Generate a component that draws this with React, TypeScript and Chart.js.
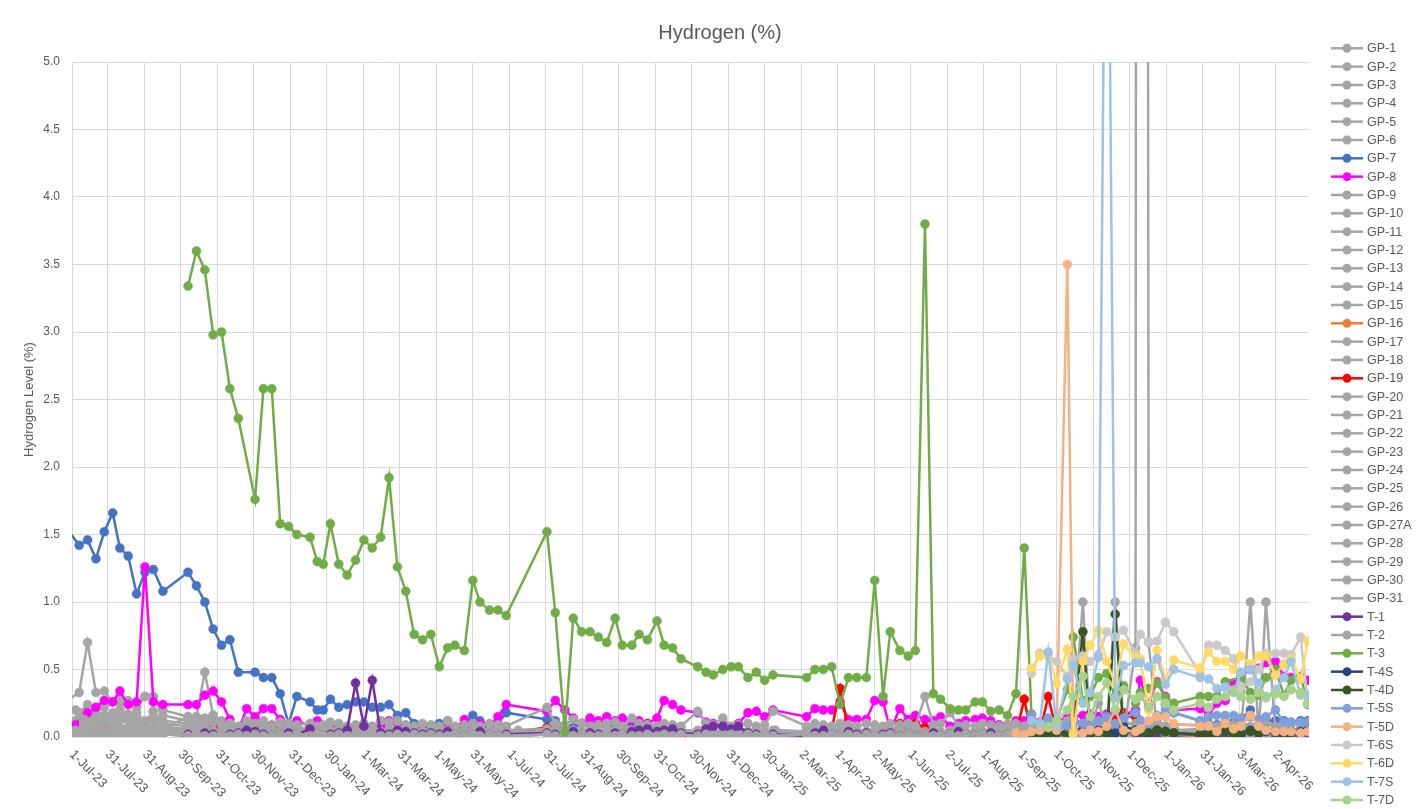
import React, { useEffect, useRef } from 'react';
import { Chart, registerables } from 'chart.js';
Chart.register(...registerables);

const TITLE = 'Hydrogen (%)';
const Y_TITLE = 'Hydrogen Level (%)';

// Sampling dates, as days after 1-Jul-2023
const GRID_DAYS = [
  -4, 3, 6, 13, 20, 27, 34, 40, 47, 54, 61, 68, 76, 97, 104, 111, 118, 125, 132, 139,
  146, 153, 160, 167, 174, 181, 188, 195, 199, 205, 210, 216, 223, 230, 237, 244, 251, 258, 265, 272,
  279, 286, 293, 300, 307, 314, 320, 328, 335, 341, 349, 356, 363, 397, 404, 412, 419, 426, 433, 440,
  447, 454, 460, 468, 474, 481, 489, 495, 502, 509, 516, 523, 530, 536, 544, 551, 557, 565, 572, 579,
  586, 614, 621, 628, 635, 642, 649, 656, 664, 671, 678, 684, 692, 699, 705, 713, 720, 726, 734, 741,
  747, 755, 761, 768, 775, 782, 789, 796, 802, 809, 816, 823, 832, 837, 845, 851, 858, 865, 872, 879,
  889, 893, 900, 907, 914, 921, 929, 936, 943, 950, 957, 964, 971, 977, 985, 992, 998, 1006, 1013, 1019,
  1027, 1033,
];
const MONTH_DAYS = [10, 38, 69, 99, 130, 160, 191, 222, 251, 282, 312, 343, 373, 404, 435, 465, 496, 526, 557, 588, 616, 647, 677, 708, 738, 769, 800, 830, 861, 891, 922, 953, 981, 1012];

const X_TICK_LABELS = ['1-Jul-23', '31-Jul-23', '31-Aug-23', '30-Sep-23', '31-Oct-23', '30-Nov-23', '31-Dec-23', '30-Jan-24', '1-Mar-24', '31-Mar-24', '1-May-24', '31-May-24', '1-Jul-24', '31-Jul-24', '31-Aug-24', '30-Sep-24', '31-Oct-24', '30-Nov-24', '31-Dec-24', '30-Jan-25', '2-Mar-25', '1-Apr-25', '2-May-25', '1-Jun-25', '2-Jul-25', '1-Aug-25', '1-Sep-25', '1-Oct-25', '1-Nov-25', '1-Dec-25', '1-Jan-26', '31-Jan-26', '3-Mar-26', '2-Apr-26'];
const X_MAX_DAY = 1034;

const GRAY = '#A5A5A5';

// ---- series values ----
const GP1 = [0.27, null, 0.33, 0.70, 0.33, 0.34, 0.26, 0.28, 0.27, 0.22, 0.30, 0.30, 0.20, 0.15, 0.15, 0.48, 0.16, 0.12, 0.10, 0.06, 0.08, 0.10, 0.12, 0.09, 0.06, 0.05, 0.08, null,
  0.05, 0.06, 0.04, 0.07, 0.05, 0.06, 0.04, 0.05, 0.06, 0.12, 0.10, 0.12, 0.06, 0.05, 0.04, 0.06, 0.05, 0.12, 0.06, 0.05, 0.04, 0.06, 0.05, 0.04, 0.06];
const GP2 = [0.19, 0.20, 0.18, 0.24, 0.20, 0.22, 0.26, 0.25, 0.26, 0.22, 0.30, 0.30, 0.16, 0.12, 0.10, 0.14, 0.16, 0.08, 0.06, 0.05, 0.07, 0.06, 0.05, 0.08, 0.06, 0.05, 0.04, null, 0.04, 0.05, 0.03, 0.04, 0.06, 0.04, 0.03, 0.05, 0.04, 0.03, 0.05, 0.04, 0.03, 0.04];
const GP3 = [0.12, 0.10, 0.14, 0.12, 0.18, 0.16, 0.18, 0.20, 0.14, 0.18, 0.11, 0.19, 0.10, 0.08, 0.06, 0.08, 0.05, 0.04, 0.06, 0.05, 0.04, 0.06, 0.05, 0.04, 0.03, 0.05, 0.04];
const GP4 = [0.08, 0.06, 0.09, 0.10, 0.08, 0.12, 0.10, 0.14, 0.12, 0.10, 0.08, 0.12, 0.06, 0.15, 0.15, 0.10, 0.16, 0.08, 0.06, 0.05, 0.06, 0.04, 0.05, 0.06, 0.04, 0.05, 0.03];
const GP5 = [0.03, 0.04, 0.06, 0.05, 0.07, 0.06, 0.08, 0.07, 0.06, 0.08, 0.11, 0.19, 0.08, 0.06, 0.05, 0.07, 0.06, 0.05, 0.04, 0.03, 0.04, 0.03, 0.04, 0.03, 0.02, 0.03, 0.04];
const GP6 = [0.15, 0.12, 0.10, 0.16, 0.13, 0.14, 0.15, 0.18, 0.17, 0.14, 0.12, 0.14, 0.12, 0.10, 0.08, 0.10, 0.12, 0.07, 0.05, 0.06, 0.04, 0.05, 0.04, 0.03, 0.04, 0.05, 0.03];
const GP7 = [
  1.54, null, 1.42, 1.46, 1.32, 1.52, 1.66, 1.40, 1.34, 1.06,
  1.22, 1.24, 1.08, 1.22, 1.12, 1.00, 0.80, 0.68, 0.72, 0.48,
  null, 0.48, 0.44, 0.44, 0.32, 0.10, 0.30, null, 0.26, 0.20,
  0.20, 0.28, 0.22, 0.24, 0.26, 0.26, 0.22, 0.22, 0.24, 0.16,
  0.18, 0.10, 0.08, 0.08, 0.10, 0.08, 0.07, 0.08, 0.16, 0.12,
  0.08, 0.10, 0.18, 0.13, 0.12, 0.08, 0.07, 0.10, 0.09, 0.10,
  0.08, 0.09, 0.10, 0.08, 0.09, 0.10, 0.06, 0.05, 0.04, 0.05,
  null, 0.04, 0.03, 0.04, 0.03, 0.02, 0.03, 0.04, 0.03, 0.02,
  0.03, 0.03, 0.02, 0.03, 0.04, 0.03, 0.02, 0.03, 0.03, 0.02,
  0.03, 0.04, 0.03, 0.02, 0.03, 0.03, 0.02, 0.03, 0.04, 0.03,
  0.02, 0.03, 0.03, 0.02, 0.03, 0.04, 0.03, 0.05, 0.06, 0.08,
  0.10, 0.06, 0.09, 0.12, 0.08, 0.10, 0.15, 0.12, 0.10, 0.14,
  0.16, 0.12, 0.10, 0.08, 0.24, 0.18, null, null, 0.12, 0.10,
  0.09, 0.10, 0.11, 0.13, 0.20, 0.10, 0.12, 0.12, 0.12, 0.11,
  0.12, 0.12,
];
const GP8 = [
  0.05, 0.09, null, 0.18, 0.22, 0.27, 0.26, 0.34, 0.24, 0.26,
  1.26, 0.26, 0.24, 0.24, 0.24, 0.31, 0.34, 0.26, 0.13, 0.05,
  0.21, 0.15, 0.21, 0.21, 0.13, 0.09, 0.12, null, 0.08, 0.12,
  0.05, 0.08, 0.06, 0.07, 0.06, 0.07, 0.06, 0.08, 0.12, 0.10,
  0.08, 0.06, 0.05, 0.05, 0.06, 0.07, 0.06, 0.13, 0.06, 0.10,
  0.08, 0.15, 0.24, 0.19, 0.27, 0.20, 0.14, 0.10, 0.14, 0.12,
  0.15, 0.12, 0.14, 0.12, 0.12, 0.10, 0.14, 0.27, 0.24, 0.20,
  null, 0.18, 0.11, 0.10, 0.08, 0.06, 0.10, 0.18, 0.19, 0.15,
  0.20, 0.15, 0.21, 0.20, 0.20, 0.26, 0.13, 0.13, 0.13, 0.27,
  0.26, 0.05, 0.21, 0.13, 0.16, 0.13, 0.12, 0.15, 0.08, 0.10,
  0.12, 0.13, 0.14, 0.12, 0.09, 0.09, 0.12, 0.12, 0.13, 0.11,
  0.12, 0.12, 0.14, 0.15, 0.16, 0.17, 0.15, 0.17, 0.18, 0.16,
  0.20, 0.42, 0.25, 0.41, 0.30, 0.20, null, null, 0.21, 0.16,
  0.25, 0.27, 0.40, 0.45, 0.50, 0.51, 0.55, 0.56, 0.45, 0.44,
  0.43, 0.42,
];
const GP9 = [0.06, 0.05, 0.04, 0.03, 0.05, 0.04, 0.03, 0.02, 0.04, 0.03, 0.02, 0.03, 0.04, 0.02, 0.03, 0.02, 0.03, 0.04, 0.02, 0.03, 0.02, 0.03, 0.04, 0.02, 0.03, 0.02, 0.03, 0.02, 0.04, 0.03, 0.02, 0.03, 0.02, 0.03];
const GP10 = [0.10, 0.08, 0.06, 0.05, 0.04, 0.05, 0.03, 0.04, 0.05, 0.03, 0.04, 0.03, 0.02, 0.03, 0.04, 0.03, 0.02, 0.03, 0.04, 0.03, 0.02, 0.03, 0.02, 0.04, 0.03, 0.02, 0.03, 0.04, 0.02, 0.03, 0.04, 0.03, 0.02, 0.03];
const GP11 = [0.08, 0.12, 0.07, 0.04, 0.03, 0.02, 0.03, 0.04, 0.02, 0.03, 0.02, 0.01, 0.02, 0.03, 0.02, 0.01, 0.02, 0.03, 0.02, 0.01, 0.02, 0.03, 0.02, 0.01, 0.02, 0.03];
const GP12 = [0.05, 0.07, 0.05, 0.04, 0.06, 0.05, 0.04, 0.03, 0.05, 0.04, 0.03, 0.04, 0.05, 0.03, 0.04, 0.05, 0.03, 0.04, 0.03, 0.05, 0.04, 0.03, 0.04, 0.05, 0.03, 0.04, 0.03, 0.05, 0.04, 0.03, 0.04, 0.05, 0.03, 0.04];
const GP13 = [0.12, 0.09, 0.06, 0.04, 0.03, 0.04, 0.02, 0.03, 0.02, 0.03, 0.04, 0.02, 0.03, 0.02, 0.01, 0.02, 0.03, 0.02];
const GP14 = [0.04, 0.06, 0.03, 0.02, 0.03, 0.02, 0.01, 0.02, 0.03, 0.02, 0.01, 0.02, 0.01, 0.02, 0.03, 0.02, 0.01, 0.02, 0.03, 0.01, 0.02, 0.03, 0.01, 0.02, 0.01, 0.02, 0.03, 0.02, 0.01, 0.02, 0.03, 0.02, 0.01, 0.02];
const GP15 = [0.09, 0.05, 0.04, 0.05, 0.03, 0.04, 0.03, 0.02, 0.03, 0.04, 0.02, 0.03, 0.02, 0.03, 0.04, 0.02, 0.03, 0.02, 0.03, 0.02, 0.04, 0.03, 0.02, 0.03, 0.02, 0.04, 0.03, 0.02, 0.03, 0.02, 0.04, 0.03, 0.02, 0.03];
const GP16 = [
  0.02, 0.01, 0.02, 0.01, 0.01, 0.02, 0.01, 0.02, 0.01, 0.02,
  0.01, 0.02, 0.03, 0.02, 0.01, 0.02, 0.01, 0.02, 0.01, 0.02,
  0.01, 0.02, 0.01, 0.02, 0.01, 0.02, 0.01, 0.02, 0.01, 0.02,
  null, 0.01, 0.02, 0.01, 0.02, 0.01, 0.02, 0.01, 0.02, 0.01,
  0.02, 0.03, 0.02, 0.01, 0.02, 0.01, 0.02, 0.01, 0.02, 0.01,
  0.02, 0.01, 0.02, 0.01, 0.02, 0.01, 0.02, 0.01, 0.02, 0.01,
  0.02, 0.01, 0.02, 0.01, 0.02, 0.01, 0.02, 0.01, 0.02, 0.01,
  0.02, 0.01, 0.02, 0.01, 0.02, 0.01, 0.02, 0.01, 0.02, 0.03,
  0.02, 0.01, 0.02, 0.01, 0.02, 0.01, null, null, 0.02, 0.01,
  0.02, 0.01, 0.02, 0.01, 0.02, 0.01, 0.02, 0.01, 0.02, 0.01,
  0.02, 0.01,
];
const GP17 = [0.07, 0.06, 0.05, 0.06, 0.04, 0.05, 0.04, 0.03, 0.04, 0.05, 0.03, 0.04, 0.03, 0.04, 0.05, 0.03, 0.04, 0.03, 0.05, 0.04, 0.03, 0.04, 0.03, 0.05, 0.04, 0.03, 0.04, 0.05, 0.03, 0.04, 0.05, 0.04, 0.03, 0.04];
const GP18 = [0.03, 0.02, 0.03, 0.02, 0.01, 0.02, 0.03, 0.02, 0.01, 0.02, 0.01, 0.02, 0.03, 0.01, 0.02, 0.01, 0.02, 0.03, 0.02, 0.01, 0.02, 0.01, 0.02, 0.03, 0.02, 0.01, 0.02, 0.01, 0.03, 0.02, 0.01, 0.02, 0.03, 0.02];
const GP19 = [
  0.01, 0.02, 0.01, 0.02, 0.01, 0.04, 0.02, 0.01, 0.02, 0.01,
  0.02, 0.01, 0.02, 0.01, 0.02, 0.03, 0.09, 0.05, 0.02, 0.01,
  0.02, 0.03, 0.08, 0.08, 0.03, 0.02, 0.01, null, 0.02, 0.01,
  0.02, 0.01, 0.02, 0.03, 0.01, 0.02, 0.01, 0.02, 0.03, 0.01,
  0.02, 0.01, 0.02, 0.01, 0.03, 0.02, 0.01, 0.02, 0.01, 0.02,
  0.03, 0.02, 0.03, 0.07, 0.06, 0.03, 0.02, 0.01, 0.02, 0.01,
  0.02, 0.01, 0.02, 0.01, 0.02, 0.01, 0.02, 0.01, 0.02, 0.01,
  null, 0.02, 0.01, 0.02, 0.01, 0.02, 0.01, 0.03, 0.02, 0.01,
  0.02, 0.01, 0.02, 0.03, 0.05, 0.36, 0.05, 0.02, 0.01, 0.02,
  0.03, 0.02, 0.10, 0.03, 0.10, 0.07, 0.02, 0.01, 0.02, 0.01,
  0.02, 0.01, 0.02, 0.01, 0.02, 0.03, 0.02, 0.28, 0.02, 0.03,
  0.30, 0.04, 0.06, 0.03, 0.08, 0.12, 0.10, 0.06, 0.12, 0.18,
  0.15, 0.10, 0.05, 0.02, 0.03, 0.02, null, null, 0.01, 0.02,
  0.01, 0.02, 0.03, 0.01, 0.02, 0.01, 0.02, 0.01, 0.02, 0.01,
  0.02, 0.01,
];
const GP20 = [
  0.04, 0.05, 0.04, 0.06, 0.05, 0.04, 0.05, 0.06, 0.04, 0.05,
  0.06, 0.05, 0.04, 0.05, 0.04, 0.06, 0.05, 0.04, 0.05, 0.04,
  0.05, 0.04, 0.06, 0.05, 0.04, 0.05, 0.04, null, 0.05, 0.04,
  0.04, 0.05, 0.06, 0.04, 0.05, 0.04, 0.05, 0.04, 0.05, 0.06,
  0.04, 0.05, 0.04, 0.05, 0.04, 0.05, 0.06, 0.04, 0.05, 0.04,
  0.05, 0.04, 0.05, 0.06, 0.05, 0.04, 0.05, 0.04, 0.05, 0.04,
  0.06, 0.05, 0.04, 0.05, 0.04, 0.05, 0.04, 0.06, 0.05, 0.04,
  null, 0.05, 0.04, 0.05, 0.04, 0.06, 0.05, 0.04, 0.05, 0.04,
  0.05, 0.04, 0.05, 0.04, 0.06, 0.05, 0.04, 0.05, 0.04, 0.05,
  0.04, 0.05, 0.06, 0.04, 0.05, 0.04, 0.05, 0.04, 0.05, 0.06,
  0.04, 0.05, 0.04, 0.05, 0.04, 0.05, 0.06, 0.04, 0.05, 0.04,
  0.05, 0.06, 0.04, 0.05, 0.07, 0.05, 0.06, 0.04, 0.05, 0.06,
  0.05, 0.04, 0.06, 0.05, 0.04, 0.05, null, null, 0.04, 0.05,
  0.06, 0.04, 0.05, 0.04, 0.05, 0.06, 0.04, 0.05, 0.04, 0.05,
  0.06, 0.05,
];
const GP21 = [
  0.10, 0.12, 0.08, 0.11, 0.09, 0.10, 0.08, 0.12, 0.10, 0.09, 0.08, 0.11, 0.10, 0.09, null,
  0.10, 0.08, 0.09, 0.11, 0.10, 0.08, 0.09, 0.10, 0.08, 0.12, 0.11, 0.12, 0.09, 0.08, 0.10, 0.09, 0.08, 0.12, 0.08, 0.09, 0.10, 0.08, 0.10, 0.09, 0.08,
  0.22, 0.10, 0.09, 0.13, 0.10, 0.08, 0.09, 0.10, 0.11, 0.08, 0.14, 0.10, 0.09, 0.08, 0.10, 0.09, 0.08, null,
  0.19, 0.10, 0.09, 0.14, 0.08, 0.09, 0.10, 0.08, 0.09, 0.19,
  0.08, 0.10, 0.09, 0.08, 0.10, 0.09, 0.08, 0.10, 0.09, 0.08, 0.10, 0.09, 0.10, 0.08, 0.30, 0.09, 0.10, 0.18, 0.08, 0.09,
  0.08, 0.10, 0.09, 0.08, 0.09, 0.10, 0.08, 0.09,
  0.10, 0.08, 0.12, 0.09, 0.14, 0.10, 0.12, 0.08, 0.10, 0.09, 0.12, 0.08, 0.10, 0.09, 0.11, 0.08, 0.09, null, null,
  0.09, 0.10, 0.08, 0.12, 0.09, 0.10, 0.08, 0.09, 0.10, 0.08, 0.09, 0.10, 0.08, 0.09,
];
const GP22 = [0.11, 0.08, 0.05, 0.04, 0.05, 0.03, 0.04, 0.03, 0.02, 0.03, 0.04, 0.03, 0.02, 0.03, 0.02, 0.04, 0.03, 0.02, 0.03, 0.02, 0.03, 0.04, 0.02, 0.03];
const GP23 = [0.06, 0.04, 0.05, 0.03, 0.04, 0.02, 0.03, 0.04, 0.02, 0.03, 0.02, 0.03, 0.04, 0.02, 0.03, 0.02, 0.04, 0.03, 0.02, 0.03, 0.02, 0.04, 0.03, 0.02, 0.03, 0.02, 0.03, 0.04, 0.02, 0.03, 0.02, 0.04, 0.03, 0.02];
const GP24 = [0.05, 0.03, 0.02, 0.03, 0.02, 0.01, 0.02, 0.01, 0.02, 0.03, 0.01, 0.02, 0.01, 0.02, 0.01, 0.02, 0.03, 0.01, 0.02, 0.01, 0.02, 0.01, 0.03, 0.02, 0.01, 0.02, 0.01, 0.02, 0.03, 0.01, 0.02, 0.01, 0.02, 0.01];
const GP25 = [0.04, 0.05, 0.03, 0.04, 0.03, 0.02, 0.03, 0.04, 0.03, 0.02, 0.03, 0.02, 0.03, 0.04, 0.02, 0.03, 0.02, 0.03, 0.02, 0.04, 0.03, 0.02, 0.03, 0.02, 0.03, 0.04, 0.02, 0.03, 0.02, 0.03, 0.04, 0.02, 0.03, 0.02];
const GP26 = [0.13, 0.07, 0.05, 0.04, 0.03, 0.04, 0.03, 0.02, 0.03, 0.02, 0.03, 0.02, 0.01, 0.02, 0.03, 0.02, 0.01, 0.02, 0.01, 0.02];
const GP27A = [0.05, 0.08, 0.10, 0.06, 0.12, 0.05, 1.00, 0.06, 0.25, 0.08, 1.00, 0.10, 0.10, 0.08, 0.06, 0.10, 0.08, 0.05, null, null, 0.06, 0.05, 0.04, 0.06, 0.05, 0.10, 0.05, 0.06, 0.04, 0.05, 0.06, 0.05, 0.04, 0.05];
const GP28 = [0.03, 0.02, 0.04, 0.03, 0.02, 0.00, 1.00, 0.03, 1.00, 0.03, 0.02, 0.04, 0.03, 0.02];
const GP29 = [null, null, null, 0.04, 0.03, 0.05, 0.04, 0.03, 0.04, 0.05, 0.03, 0.04, 0.03, 0.05, 0.04, 0.03, 0.04, 0.03, 0.05, 0.04, 0.03, 0.04, 0.05, 0.03, 0.04, 0.03, 0.05, 0.04, 0.03, 0.04, 0.05, 0.03, 0.04, 0.03];
const GP30 = [null, null, null, 0.02, 0.03, 0.02, 0.01, 0.02, 0.03, 0.02, 0.01, 0.02, 0.03, 0.02, 0.01, 0.02, 0.03, 0.01, 0.02, 0.03, 0.02, 0.01, 0.02, 0.03, 0.02, 0.01, 0.02, 0.03, 0.02, 0.01, 0.02, 0.03, 0.02, 0.01];
const GP31 = [null, null, null, 0.05, 0.04, 0.03, 0.04, 0.05, 0.03, 0.04, 0.03, 0.02, 0.03, 0.04, 0.03, 0.02, 0.03, 0.04, 0.02, 0.03, 0.04, 0.02, 0.03, 0.04, 0.03, 0.02, 0.03, 0.04, 0.03, 0.02, 0.03, 0.04, 0.03, 0.02];
const T1 = [
  0.02, 0.01, 0.03, 0.02, 0.01, 0.02, 0.03, 0.05, 0.04, 0.02,
  0.01, 0.02, 0.03, 0.02, null, 0.06, 0.02, 0.01, 0.02, 0.03,
  0.05, 0.40, 0.08, 0.42, 0.03, 0.02, 0.05, 0.04, 0.03, 0.02,
  0.03, 0.02, 0.04, 0.02, 0.01, 0.02, 0.04, 0.02, 0.01, 0.02,
  0.03, 0.02, 0.01, 0.04, 0.02, 0.03, 0.02, 0.01, 0.03, 0.02,
  0.04, 0.05, 0.06, 0.04, 0.05, 0.06, 0.03, null, 0.02, 0.06,
  0.08, 0.08, 0.06, 0.08, 0.03, 0.02, 0.01, 0.02, 0.01, 0.03,
  0.05, 0.02, 0.01, 0.04, 0.02, 0.03, 0.01, 0.02, 0.03, 0.01,
  0.02, 0.01, 0.02, 0.03, 0.01, 0.02, 0.04, 0.02, 0.01, 0.02,
  0.03, 0.01, 0.02, 0.01, 0.02, 0.01, 0.02, 0.03, 0.01, 0.02,
  0.01, 0.03, 0.02, 0.05, 0.03, 0.02, 0.04, 0.03, 0.02, 0.01,
  0.02, 0.03, 0.01, null, null, 0.02, 0.01, 0.02, 0.03, 0.01,
  0.02, 0.01, 0.02, 0.03, 0.02, 0.01, 0.02, 0.01, 0.02,
];
const T2 = [
  0.02, 0.01, 0.02, 0.01, 0.02, 0.01, 0.02, 0.01, 0.02, 0.01,
  0.02, 0.01, 0.02, 0.01, 0.02, 0.01, 0.01, 0.02, 0.01, 0.02,
  0.01, 0.02, 0.01, 0.01, 0.02, 0.01, 0.02, null, 0.01, 0.02,
  0.01, 0.01, 0.02, 0.01, 0.02, 0.01, 0.02, 0.01, 0.01, 0.02,
  0.01, 0.02, 0.01, 0.02, 0.01, 0.01, 0.02, 0.01, 0.02, 0.01,
  0.02, 0.01, 0.01, 0.02, 0.01, 0.02, 0.01, 0.02, 0.01, 0.01,
  0.02, 0.01, 0.02, 0.01, 0.01, 0.02, 0.01, 0.02, 0.01, 0.02,
  null, 0.01, 0.02, 0.01, 0.01, 0.02, 0.01, 0.02, 0.01, 0.02,
  0.01, 0.02, 0.01, 0.01, 0.02, 0.01, 0.02, 0.01, 0.02, 0.01,
  0.01, 0.02, 0.01, 0.02, 0.01, 0.02, 0.01, 0.01, 0.02, 0.01,
  0.02, 0.01, 0.02, 0.01, 0.01, 0.02, 0.01, 0.02, 0.01, 0.02,
  0.03, 0.02, 0.04, 0.02, 0.03, 0.05, 0.02, 0.04, 0.03, 0.02,
  0.66, 60, 0.70, 0.05, 0.03, 0.02, null, null, 0.02, 0.03,
  0.02, 0.04, 0.02, 0.03, 0.02, 0.03, 0.02, 0.03, 0.04, 0.02,
  0.03, 0.02,
];
const T3 = [
  3.34, 3.60, 3.46, 2.98, 3.00, 2.58, 2.36, null, 1.76, 2.58,
  2.58, 1.58, 1.56, 1.50, null, 1.48, 1.30, 1.28, 1.58, 1.28,
  1.20, 1.31, 1.46, 1.40, 1.48, 1.92, 1.26, 1.08, 0.76, 0.72,
  0.76, 0.52, 0.66, 0.68, 0.64, 1.16, 1.00, 0.94, 0.94, 0.90,
  1.52, 0.92, 0.04, 0.88, 0.78, 0.78, 0.74, 0.70, 0.88, 0.68,
  0.68, 0.76, 0.72, 0.86, 0.68, 0.66, 0.58, null, 0.52, 0.48,
  0.46, 0.50, 0.52, 0.52, 0.44, 0.48, 0.42, 0.46, 0.44, 0.50,
  0.50, 0.52, 0.24, 0.44, 0.44, 0.44, 1.16, 0.30, 0.78, 0.64,
  0.60, 0.64, 3.80, 0.32, 0.28, 0.21, 0.20, 0.20, 0.26, 0.26,
  0.19, 0.20, 0.16, 0.32, 1.40, 0.17, 0.06, 0.10, 0.12, 0.35,
  0.74, 0.27, 0.30, 0.44, 0.47, 0.30, 0.38, 0.25, 0.33, 0.36,
  0.40, 0.29, 0.25, null, null, 0.30, 0.30, 0.30, 0.41, null,
  0.44, 0.33, 0.31, 0.44, 0.50, 0.31, 0.42, 0.45, 0.24,
];
const T4S = [0.02, 0.03, 0.02, 0.04, 0.03, 0.02, 0.05, 0.03, 0.04, 0.06, 0.03, 0.08, 0.05, 0.04, 0.03, 0.05, 0.04, 0.03, null, null, 0.02, 0.03, 0.02, 0.04, 0.03, 0.02, 0.05, 0.03, 0.04, 0.03, 0.02, 0.03, 0.04, 0.03];
const T4D = [0.02, 0.02, 0.02, 0.03, 0.02, 0.03, 0.78, 0.02, 0.03, 0.02, 0.91, 0.03, 0.05, 0.04, 0.03, 0.05, 0.04, 0.03, null, null, 0.015, 0.02, 0.03, 0.05, 0.02, 0.03, 0.04, 0.03, 0.05, 0.04, 0.03, 0.04, 0.03, 0.05];
const T5S = [0.16, 0.10, 0.14, 0.12, 0.08, 0.10, 0.10, 0.08, 0.12, 0.15, 0.10, 0.14, 0.18, 0.12, 0.10, 0.16, 0.20, 0.18, null, null, 0.12, 0.15, 0.16, 0.16, 0.16, 0.14, 0.15, 0.13, 0.15, 0.20, 0.11, 0.11, 0.11, 0.11];
const T5D = [0.03, 0.02, 0.04, 0.05, 0.07, 0.05, 3.50, 0.04, 0.03, 0.05, 0.04, 0.08, 0.20, 0.05, 0.04, 0.06, 0.12, 0.15, 0.15, 0.10, null, null, 0.08, 0.08, 0.04, 0.10, 0.06, 0.08, 0.16, 0.08, 0.05, 0.04, 0.04, 0.04, 0.03, 0.04];
const T6S = [0.47, 0.62, 0.60, 0.56, 0.45, 0.58, 0.60, 0.56, 0.61, 0.78, 0.74, 0.79, 0.62, 0.76, 0.70, 0.71, 0.85, 0.78, null, null, 0.47, 0.68, 0.68, 0.64, 0.58, 0.37, 0.41, 0.50, 0.62, 0.62, 0.62, 0.61, 0.74, 0.25];
const T6D = [0.51, 0.60, 0.62, 0.40, 0.65, 0.02, 0.56, 0.68, 0.79, 0.56, 0.39, 0.69, 0.59, 0.58, 0.20, 0.64, 0.43, 0.57, null, null, 0.51, 0.63, 0.56, 0.56, 0.50, 0.60, 0.54, 0.60, 0.60, 0.46, 0.54, 0.58, 0.43, 0.71];
const T7S = [0.12, 0.10, 0.63, 0.09, 0.43, 0.53, 0.25, 0.33, 0.59, 8.0, 0.29, 0.53, 0.55, 0.55, 0.52, 0.58, 0.39, 0.50, null, null, 0.44, 0.43, 0.36, 0.37, 0.33, 0.48, 0.50, 0.40, 0.29, 0.35, 0.44, 0.56, 0.31, 0.31];
const T7D = [0.08, 0.12, 0.20, 0.30, 0.45, 0.15, 0.30, 0.40, 0.20, 0.35, 0.28, 0.30, 0.22, 0.30, 0.25, 0.20, null, null, 0.25, 0.22, 0.28, 0.30, 0.35, 0.30, 0.28, 0.33, 0.30, 0.32, 0.30, 0.35, 0.33, 0.25];

type Series = { label: string; color: string; dates: number[]; start: number; values: (number | null)[] };
const W = GRID_DAYS;
const M = MONTH_DAYS;
const SERIES: Series[] = [
  { label: 'GP-1', color: GRAY, dates: W, start: 0, values: GP1 },
  { label: 'GP-2', color: GRAY, dates: W, start: 0, values: GP2 },
  { label: 'GP-3', color: GRAY, dates: W, start: 0, values: GP3 },
  { label: 'GP-4', color: GRAY, dates: W, start: 0, values: GP4 },
  { label: 'GP-5', color: GRAY, dates: W, start: 0, values: GP5 },
  { label: 'GP-6', color: GRAY, dates: W, start: 0, values: GP6 },
  { label: 'GP-7', color: '#4472C4', dates: W, start: 0, values: GP7 },
  { label: 'GP-8', color: '#FF00FF', dates: W, start: 0, values: GP8 },
  { label: 'GP-9', color: GRAY, dates: M, start: 0, values: GP9 },
  { label: 'GP-10', color: GRAY, dates: M, start: 0, values: GP10 },
  { label: 'GP-11', color: GRAY, dates: M, start: 0, values: GP11 },
  { label: 'GP-12', color: GRAY, dates: M, start: 0, values: GP12 },
  { label: 'GP-13', color: GRAY, dates: M, start: 0, values: GP13 },
  { label: 'GP-14', color: GRAY, dates: M, start: 0, values: GP14 },
  { label: 'GP-15', color: GRAY, dates: M, start: 0, values: GP15 },
  { label: 'GP-16', color: '#ED7D31', dates: W, start: 40, values: GP16 },
  { label: 'GP-17', color: GRAY, dates: M, start: 0, values: GP17 },
  { label: 'GP-18', color: GRAY, dates: M, start: 0, values: GP18 },
  { label: 'GP-19', color: '#FF0000', dates: W, start: 0, values: GP19 },
  { label: 'GP-20', color: GRAY, dates: W, start: 0, values: GP20 },
  { label: 'GP-21', color: GRAY, dates: W, start: 13, values: GP21 },
  { label: 'GP-22', color: GRAY, dates: M, start: 0, values: GP22 },
  { label: 'GP-23', color: GRAY, dates: M, start: 0, values: GP23 },
  { label: 'GP-24', color: GRAY, dates: M, start: 0, values: GP24 },
  { label: 'GP-25', color: GRAY, dates: M, start: 0, values: GP25 },
  { label: 'GP-26', color: GRAY, dates: M, start: 0, values: GP26 },
  { label: 'GP-27A', color: GRAY, dates: W, start: 108, values: GP27A },
  { label: 'GP-28', color: GRAY, dates: W, start: 128, values: GP28 },
  { label: 'GP-29', color: GRAY, dates: M, start: 0, values: GP29 },
  { label: 'GP-30', color: GRAY, dates: M, start: 0, values: GP30 },
  { label: 'GP-31', color: GRAY, dates: M, start: 0, values: GP31 },
  { label: 'T-1', color: '#7030A0', dates: W, start: 13, values: T1 },
  { label: 'T-2', color: GRAY, dates: W, start: 0, values: T2 },
  { label: 'T-3', color: '#70AD47', dates: W, start: 13, values: T3 },
  { label: 'T-4S', color: '#264478', dates: W, start: 108, values: T4S },
  { label: 'T-4D', color: '#375623', dates: W, start: 108, values: T4D },
  { label: 'T-5S', color: '#7F9FDB', dates: W, start: 108, values: T5S },
  { label: 'T-5D', color: '#F4B183', dates: W, start: 106, values: T5D },
  { label: 'T-6S', color: '#C9C9C9', dates: W, start: 108, values: T6S },
  { label: 'T-6D', color: '#FFD966', dates: W, start: 108, values: T6D },
  { label: 'T-7S', color: '#9DC3E6', dates: W, start: 108, values: T7S },
  { label: 'T-7D', color: '#A9D18E', dates: W, start: 110, values: T7D },
];

const MONTHS: Record<string, number> = { Jan: 0, Feb: 1, Mar: 2, Apr: 3, May: 4, Jun: 5, Jul: 6, Aug: 7, Sep: 8, Oct: 9, Nov: 10, Dec: 11 };
const DAY0 = Date.UTC(2023, 6, 1);
function labelToDay(s: string): number {
  const [d, m, y] = s.split('-');
  return Math.round((Date.UTC(2000 + Number(y), MONTHS[m], Number(d)) - DAY0) / 86400000);
}
const X_TICK_DAYS = X_TICK_LABELS.map(labelToDay);

const FONT = '"Liberation Sans", Arial, sans-serif';
const TEXT = '#595959';

const overlay = {
  id: 'overlay',
  afterDraw(chart: any) {
    const ctx: CanvasRenderingContext2D = chart.ctx;
    const xs = chart.scales.x;
    ctx.save();
    ctx.fillStyle = TEXT;
    ctx.font = `20px ${FONT}`;
    ctx.textAlign = 'center';
    ctx.textBaseline = 'middle';
    ctx.fillText(TITLE, 720, 33);

    ctx.font = `13px ${FONT}`;
    X_TICK_LABELS.forEach((lab, i) => {
      const px = xs.getPixelForValue(X_TICK_DAYS[i]);
      ctx.save();
      ctx.translate(px - 0.5, 752.5);
      ctx.rotate(Math.PI / 4);
      ctx.textAlign = 'left';
      ctx.textBaseline = 'middle';
      ctx.fillText(lab, 0, 0);
      ctx.restore();
    });

    ctx.font = `12.5px ${FONT}`;
    const step = (800 - 48.3) / (SERIES.length - 1);
    SERIES.forEach((s, i) => {
      const y = 48.3 + i * step;
      ctx.strokeStyle = s.color;
      ctx.lineWidth = 2.5;
      ctx.beginPath();
      ctx.moveTo(1331, y);
      ctx.lineTo(1363, y);
      ctx.stroke();
      ctx.fillStyle = s.color;
      ctx.beginPath();
      ctx.arc(1347, y, 4.5, 0, Math.PI * 2);
      ctx.fill();
      ctx.fillStyle = TEXT;
      ctx.textAlign = 'left';
      ctx.textBaseline = 'middle';
      ctx.fillText(s.label, 1367, y + 0.5);
    });
    ctx.restore();
  },
};

export default function App() {
  const ref = useRef<HTMLCanvasElement>(null);
  useEffect(() => {
    document.body.style.margin = '0';
    if (!ref.current) return;
    const n = SERIES.length;
    const datasets = SERIES.map((s, i) => ({
      label: s.label,
      data: s.values.map((v, k) => ({ x: s.dates[s.start + k], y: v })),
      borderColor: s.color,
      backgroundColor: s.color,
      pointBackgroundColor: s.color,
      pointBorderColor: s.color,
      borderWidth: 2.5,
      pointRadius: 4.5,
      pointBorderWidth: 0.5,
      tension: 0,
      spanGaps: true,
      order: n - i,
    }));
    const chart = new Chart(ref.current, {
      type: 'line',
      data: { datasets },
      options: {
        animation: false,
        responsive: false,
        layout: { padding: { top: 62, right: 111, bottom: 0, left: 0 } },
        plugins: { legend: { display: false }, title: { display: false }, tooltip: { enabled: false } },
        scales: {
          x: {
            type: 'linear',
            min: 0,
            max: X_MAX_DAY,
            ticks: { display: false },
            grid: { color: '#D9D9D9', lineWidth: 1, drawTicks: false },
            border: { display: false },
            afterBuildTicks: (scale: any) => {
              scale.ticks = X_TICK_DAYS.map((v) => ({ value: v }));
            },
            afterFit: (scale: any) => {
              scale.height = 72;
            },
          },
          y: {
            min: 0,
            max: 5,
            ticks: {
              stepSize: 0.5,
              callback: (v: any) => Number(v).toFixed(1),
              color: TEXT,
              font: { size: 12, family: FONT },
              padding: 12,
            },
            grid: { color: '#D9D9D9', lineWidth: 1, drawTicks: false },
            border: { display: false },
            title: {
              display: true,
              text: Y_TITLE,
              color: TEXT,
              font: { size: 13, family: FONT },
              padding: { top: 22, bottom: 0 },
            },
            afterFit: (scale: any) => {
              scale.width = 72;
            },
          },
        },
      },
      plugins: [overlay],
    } as any);
    return () => chart.destroy();
  }, []);
  return <canvas ref={ref} width={1420} height={809} style={{ display: 'block' }} />;
}
